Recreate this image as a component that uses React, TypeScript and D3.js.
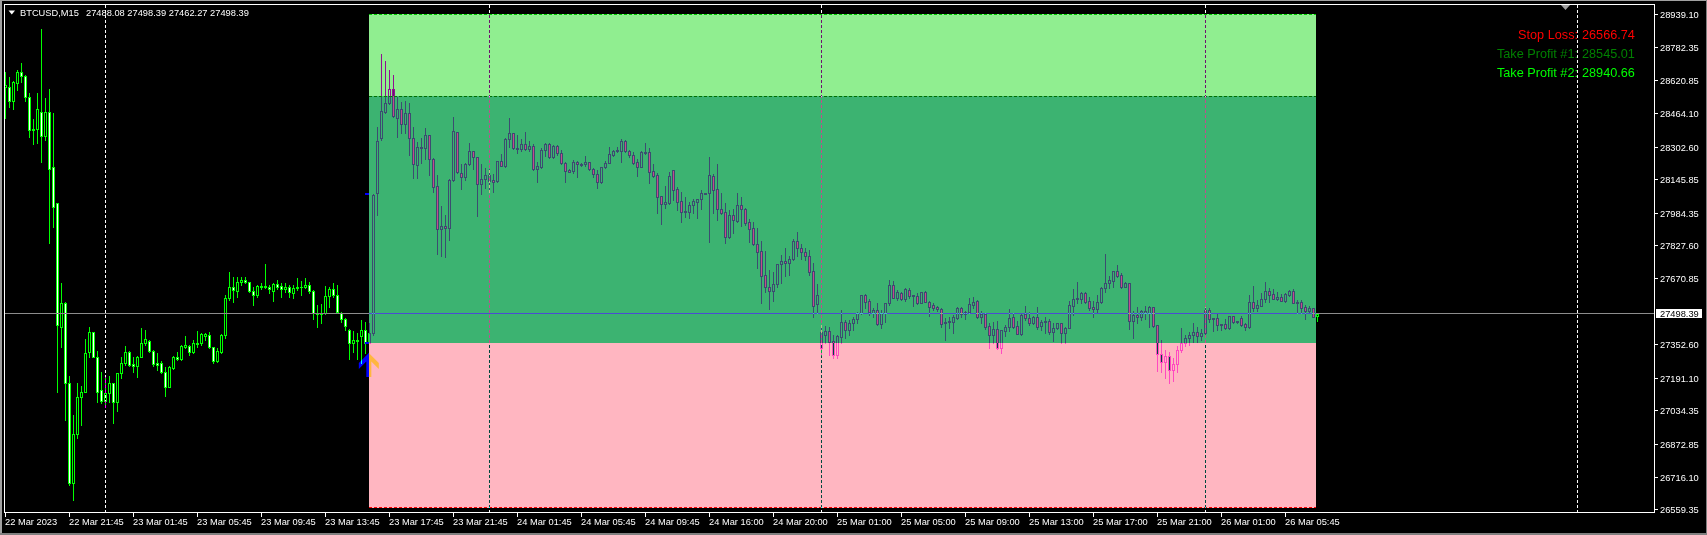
import React from 'react';
import * as d3 from 'd3';

// ---- Data (M15 bars, BTCUSD) ----
const OPEN = [
28591,28591,28524,28610,28663,28644,28543,28383,28386,28471,28356,28468,28207,28030,27437,27550,27168,26684,26921,27101,
27125,27314,27410,27290,27133,27082,27117,27168,27077,27213,27261,27317,27258,27250,27293,27357,27370,27322,27261,27261,
27218,27149,27237,27290,27282,27341,27345,27317,27354,27357,27394,27397,27338,27274,27317,27397,27574,27630,27611,27651,
27662,27651,27611,27590,27633,27627,27630,27611,27641,27633,27617,27627,27601,27623,27630,27627,27636,27611,27502,27498,
27502,27585,27617,27588,27505,27473,27421,27361,27373,27393,27421,27361,27409,28078,28343,28471,28511,28578,28439,28482,
28410,28463,28343,28213,28300,28295,28359,28242,28114,27905,27921,27910,28143,28372,28175,28155,28219,28282,28251,28123,
28146,28167,28143,28138,28234,28211,28338,28367,28298,28293,28316,28290,28306,28194,28207,28287,28314,28251,28306,28271,
28223,28191,28187,28227,28218,28218,28227,28194,28170,28131,28203,28226,28263,28282,28282,28328,28282,28263,28229,28207,
28276,28277,28186,28167,28064,28029,28030,28189,28099,28042,27993,27987,28021,28038,28050,28077,28078,28162,28099,28005,
27987,27868,27973,27945,28022,28003,27941,27912,27835,27801,27684,27628,27610,27641,27737,27753,27742,27761,27849,27816,
27796,27777,27705,27545,27336,27397,27417,27368,27301,27389,27458,27421,27457,27473,27502,27588,27561,27503,27516,27449,
27502,27550,27638,27574,27598,27570,27614,27590,27585,27553,27604,27558,27542,27530,27521,27453,27458,27461,27481,27526,
27497,27510,27542,27561,27485,27498,27441,27399,27426,27333,27418,27434,27482,27441,27401,27498,27477,27453,27482,27442,
27458,27465,27410,27433,27453,27405,27429,27538,27570,27569,27598,27561,27530,27521,27558,27622,27646,27659,27705,27686,
27630,27646,27466,27493,27482,27502,27502,27530,27445,27306,27268,27296,27229,27258,27325,27359,27383,27397,27412,27393,
27407,27518,27474,27477,27445,27450,27429,27489,27461,27477,27450,27434,27554,27529,27538,27569,27609,27593,27572,27580,
27562,27590,27609,27553,27556,27532,27514,27526,27488.08
];
const HIGH = [
28663,28636,28618,28671,28703,28647,28559,28434,28559,28867,28535,28578,28463,28034,27646,27558,27200,27013,27165,27152,
27377,27437,27413,27320,27221,27197,27200,27168,27216,27293,27345,27320,27293,27296,27429,27421,27373,27325,27309,27274,
27245,27250,27296,27317,27349,27393,27349,27373,27418,27409,27409,27413,27341,27333,27402,27590,27702,27678,27675,27678,
27678,27654,27630,27638,27646,27739,27638,27646,27662,27646,27646,27638,27638,27670,27659,27670,27654,27614,27542,27546,
27635,27630,27646,27638,27510,27478,27428,27418,27405,27470,27461,27453,28075,28396,28748,28715,28671,28647,28540,28519,
28522,28511,28396,28327,28346,28391,28359,28247,28167,28017,27974,28146,28444,28375,28219,28223,28319,28282,28255,28219,
28199,28195,28171,28235,28268,28346,28439,28370,28359,28338,28373,28330,28316,28231,28295,28322,28319,28311,28311,28287,
28231,28194,28239,28235,28223,28258,28231,28199,28191,28207,28235,28300,28287,28300,28338,28335,28287,28276,28242,28282,
28320,28295,28219,28178,28064,28114,28183,28191,28109,28085,28061,28037,28051,28050,28094,28080,28253,28171,28219,28082,
28032,27998,28005,28080,28061,28008,27953,27941,27912,27851,27801,27710,27700,27739,27782,27816,27777,27859,27893,27835,
27816,27806,27742,27643,27445,27441,27437,27397,27397,27518,27469,27469,27485,27510,27590,27593,27569,27526,27550,27518,
27551,27662,27657,27614,27606,27625,27625,27591,27598,27606,27609,27559,27553,27537,27526,27477,27485,27493,27534,27534,
27513,27577,27582,27566,27513,27502,27453,27461,27465,27422,27445,27521,27505,27465,27498,27537,27506,27489,27530,27469,
27482,27473,27457,27457,27457,27434,27561,27617,27651,27606,27606,27578,27562,27590,27630,27787,27681,27706,27734,27694,
27651,27646,27514,27534,27518,27537,27537,27534,27446,27373,27325,27316,27287,27344,27431,27397,27412,27454,27434,27426,
27534,27526,27477,27498,27451,27473,27490,27490,27465,27489,27453,27590,27633,27566,27598,27654,27625,27617,27606,27593,
27598,27614,27617,27566,27566,27542,27537,27526,27498.39
];
const LOW = [
28439,28492,28482,28575,28615,28524,28351,28314,28319,28231,28335,27841,27918,27125,27341,26989,26676,26604,26901,26965,
27125,27293,27290,27077,27072,27053,27077,26976,27034,27189,27253,27250,27221,27197,27290,27349,27317,27250,27229,27213,
27104,27146,27232,27277,27277,27333,27301,27309,27341,27349,27373,27333,27261,27269,27309,27381,27566,27558,27582,27638,
27646,27606,27542,27582,27617,27622,27598,27561,27617,27582,27606,27582,27574,27614,27590,27622,27598,27474,27437,27453,
27498,27530,27578,27502,27461,27421,27280,27317,27280,27261,27309,27357,27397,27974,28335,28466,28508,28444,28351,28370,
28370,28263,28154,28151,28226,28242,28167,28086,27785,27777,27771,27854,28139,28178,28098,28143,28215,28194,27971,28074,
28102,28086,28086,28134,28210,28207,28300,28292,28274,28282,28287,28284,28191,28134,28202,28258,28247,28247,28263,28218,
28134,28179,28175,28159,28210,28210,28191,28159,28102,28130,28200,28223,28258,28277,28231,28279,28251,28221,28163,28205,
28268,28130,28155,27985,27931,28009,28029,28046,27998,27942,27966,27958,27985,27961,28003,28075,27846,27985,27950,27979,
27841,27865,27888,27941,27921,27926,27844,27830,27721,27553,27602,27524,27562,27630,27649,27683,27687,27758,27777,27763,
27759,27686,27485,27502,27301,27357,27301,27287,27287,27357,27381,27397,27421,27453,27500,27526,27493,27485,27445,27429,
27461,27542,27574,27566,27564,27562,27577,27538,27545,27551,27554,27490,27518,27514,27437,27373,27433,27405,27474,27485,
27474,27502,27526,27481,27457,27425,27336,27357,27330,27309,27394,27418,27429,27400,27397,27469,27445,27450,27425,27421,
27405,27401,27370,27425,27360,27357,27429,27493,27550,27550,27550,27518,27485,27510,27553,27606,27625,27630,27678,27625,
27626,27425,27385,27453,27469,27474,27434,27437,27226,27219,27191,27167,27176,27219,27316,27344,27349,27364,27364,27373,
27400,27461,27418,27421,27421,27425,27425,27457,27457,27441,27421,27429,27514,27514,27538,27558,27558,27569,27566,27561,
27558,27585,27550,27502,27502,27474,27510,27482,27462.27
];
const CLOSE = [
28599,28524,28614,28663,28644,28543,28383,28388,28482,28356,28468,28194,28014,27445,27550,27168,26684,26921,27101,27125,
27309,27410,27290,27125,27082,27117,27168,27077,27213,27261,27317,27253,27250,27293,27357,27377,27322,27256,27253,27218,
27149,27242,27290,27280,27346,27349,27317,27357,27361,27401,27402,27338,27274,27322,27397,27574,27630,27614,27651,27662,
27651,27611,27590,27633,27630,27633,27617,27641,27630,27617,27630,27606,27625,27630,27627,27636,27611,27502,27498,27502,
27585,27617,27590,27510,27474,27441,27357,27373,27370,27421,27361,27405,28070,28330,28474,28511,28578,28450,28482,28410,
28463,28343,28218,28303,28295,28359,28242,28110,27905,27921,27910,28143,28378,28179,28155,28219,28282,28251,28122,28146,
28167,28138,28134,28234,28211,28338,28367,28295,28293,28316,28290,28306,28194,28210,28287,28316,28251,28306,28274,28223,
28186,28183,28227,28218,28213,28227,28194,28171,28131,28203,28226,28266,28284,28287,28328,28282,28263,28226,28207,28277,
28272,28183,28163,28062,28029,28035,28162,28096,28038,27990,27987,28021,28042,28050,28078,28078,28167,28096,28001,27985,
27870,27974,27949,28022,28001,27937,27909,27833,27798,27683,27630,27610,27643,27739,27753,27742,27763,27849,27816,27796,
27777,27699,27538,27590,27410,27417,27365,27301,27394,27458,27421,27453,27473,27502,27588,27558,27506,27516,27449,27502,
27550,27638,27577,27602,27570,27617,27586,27583,27553,27604,27558,27534,27526,27521,27449,27458,27465,27485,27526,27497,
27506,27545,27558,27485,27500,27437,27399,27426,27333,27421,27434,27477,27437,27401,27493,27477,27453,27482,27437,27460,
27465,27410,27433,27453,27405,27429,27542,27570,27574,27598,27558,27529,27521,27558,27622,27646,27662,27705,27683,27626,
27646,27466,27493,27482,27513,27513,27534,27441,27304,27268,27296,27229,27258,27325,27359,27383,27397,27412,27393,27407,
27518,27474,27477,27445,27450,27429,27489,27461,27465,27445,27434,27554,27529,27542,27569,27610,27590,27570,27580,27562,
27593,27609,27553,27556,27529,27514,27529,27485,27498.39
];

const TIME_LABELS = [
  '22 Mar 2023', '22 Mar 21:45', '23 Mar 01:45', '23 Mar 05:45', '23 Mar 09:45', '23 Mar 13:45',
  '23 Mar 17:45', '23 Mar 21:45', '24 Mar 01:45', '24 Mar 05:45', '24 Mar 09:45', '24 Mar 16:00',
  '24 Mar 20:00', '25 Mar 01:00', '25 Mar 05:00', '25 Mar 09:00', '25 Mar 13:00', '25 Mar 17:00',
  '25 Mar 21:00', '26 Mar 01:00', '26 Mar 05:45'
];
const TIME_LABEL_BARS = [1, 17, 33, 49, 65, 81, 97, 113, 129, 145, 161, 177, 193, 209, 225, 241, 257, 273, 289, 305, 321];
const GRID_BARS = [26, 122, 205, 301, 394];

const PRICE_TICKS = [
  '28939.10', '28782.35', '28620.85', '28464.10', '28302.60', '28145.85', '27984.35', '27827.60',
  '27670.85', '27352.60', '27191.10', '27034.35', '26872.85', '26716.10', '26559.35'
];

const SYMBOL = 'BTCUSD,M15';
const LAST_OHLC = ['27488.08', '27498.39', '27462.27', '27498.39'];
const CURRENT_PRICE = 27498.39;

const TP2 = 28940.66;
const TP1 = 28545.01;
const ENTRY = 27360.3;
const SL = 26566.74;
const ZONE_BARS = [91.9, 328.7];
const ORDER_MARKERS = [28075, 27360];
const ARROW = { bar: 92, price: 27311 };

const LEGEND = [
  { label: 'Stop Loss:', value: '26566.74', color: '#ff0000' },
  { label: 'Take Profit #1:', value: '28545.01', color: '#008000' },
  { label: 'Take Profit #2:', value: '28940.66', color: '#00ff00' },
];

const W = 1707;
const H = 535;
const LIME = '#00ff00';
const FONT = '"Liberation Sans", Arial, sans-serif';

export default function App() {
  const x = d3.scaleLinear().domain([1, 413]).range([5.33, 1653.33]);
  const y = d3.scaleLinear().domain([26559.35, 28939.1]).range([509.3, 14.3]);

  const candles = OPEN.map((o, i) => ({ i: i + 1, o, h: HIGH[i], l: LOW[i], c: CLOSE[i] }));

  const zx0 = Math.round(x(ZONE_BARS[0]));
  const zx1 = Math.round(x(ZONE_BARS[1]));
  const yTP2 = Math.round(y(TP2));
  const yTP1 = Math.round(y(TP1));
  const yEn = Math.round(y(ENTRY));
  const ySL = Math.round(y(SL));
  const yCur = Math.floor(y(CURRENT_PRICE));

  const ax = x(ARROW.bar) - 0.5;
  const ay = y(ARROW.price);
  const arrowPts = [
    [ax, ay], [ax + 10, ay + 10], [ax + 10, ay + 16], [ax + 2.5, ay + 8.5], [ax + 2.5, ay + 24],
    [ax - 2.5, ay + 24], [ax - 2.5, ay + 8.5], [ax - 10, ay + 16], [ax - 10, ay + 10]
  ].map(p => p.join(',')).join(' ');

  return (
    <svg width={W} height={H} style={{ position: 'fixed', left: 0, top: 0, display: 'block' }}>
      <rect x={0} y={0} width={W} height={H} fill="#000" />
      {/* window frame */}
      <g shapeRendering="crispEdges">
        <rect x={0} y={0} width={W} height={1} fill="#a0a0a0" />
        <rect x={0} y={0} width={2} height={H} fill="#a0a0a0" />
        <rect x={0} y={H - 2} width={W} height={2} fill="#808080" />
        <rect x={W - 1} y={0} width={1} height={H} fill="#808080" />
      </g>

      {/* zones */}
      <g shapeRendering="crispEdges">
        <rect x={zx0} y={yTP2} width={zx1 - zx0} height={yTP1 - yTP2} fill="#90ee90" />
        <rect x={zx0} y={yTP1} width={zx1 - zx0} height={yEn - yTP1} fill="#3cb371" />
        <rect x={zx0} y={yEn} width={zx1 - zx0} height={ySL - yEn} fill="#ffb6c1" />
        <line x1={zx0} x2={zx1} y1={yTP2 + 0.5} y2={yTP2 + 0.5} stroke="#00d000" strokeDasharray="3 2" />
        <line x1={zx0} x2={zx1} y1={yTP1 + 0.5} y2={yTP1 + 0.5} stroke="#007000" strokeDasharray="3 2" />
        <line x1={zx0} x2={zx1} y1={ySL - 0.5} y2={ySL - 0.5} stroke="#ff0000" strokeDasharray="3 2" />
      </g>

      {/* vertical grid */}
      <g shapeRendering="crispEdges" style={{ mixBlendMode: 'difference' }}>
        {GRID_BARS.map(b => {
          const gx = Math.round(x(b)) + 0.5;
          return <line key={b} x1={gx} x2={gx} y1={5} y2={512} stroke="#ffffff" strokeDasharray="3 2" />;
        })}
      </g>

      {/* bid line */}
      <g shapeRendering="crispEdges">
        <rect x={5} y={yCur} width={1649} height={1} fill="#8c8c8c" />
        <rect x={zx0} y={yCur} width={zx1 - zx0} height={1} fill="#4b4bd2" />
      </g>

      {/* candles */}
      <g shapeRendering="crispEdges" style={{ mixBlendMode: 'difference' }}>
        {candles.map(d => {
          const cx = Math.round(x(d.i));
          const hi = Math.max(d.h, d.o, d.c);
          const lo = Math.min(d.l, d.o, d.c);
          const yH = Math.round(y(hi));
          const yL = Math.round(y(lo));
          const yT = Math.round(y(Math.max(d.o, d.c)));
          const yB = Math.round(y(Math.min(d.o, d.c)));
          const bear = d.c < d.o;
          return (
            <g key={d.i}>
              {yT > yH && <rect x={cx} y={yH} width={1} height={yT - yH} fill={LIME} />}
              <rect x={cx - 1} y={yT} width={3} height={yB - yT + 1} fill={LIME} />
              {yB - yT >= 2 && (
                <rect x={cx} y={yT + 1} width={1} height={yB - yT - 1} fill={bear ? '#ffffff' : '#000000'} />
              )}
              {yL > yB && <rect x={cx} y={yB + 1} width={1} height={yL - yB} fill={LIME} />}
            </g>
          );
        })}
        {ORDER_MARKERS.map(p => (
          <rect key={p} x={Math.round(x(ARROW.bar)) - 4} y={Math.round(y(p)) - 1} width={5} height={2} fill="#0000ff" />
        ))}
      </g>
      <g style={{ mixBlendMode: 'difference' }}>
        <polygon points={arrowPts} fill="#0000ff" />
      </g>

      {/* chart frame */}
      <rect x={4.5} y={4.5} width={1650} height={508} fill="none" stroke="#ffffff" shapeRendering="crispEdges" />

      {/* price axis */}
      <g fontFamily={FONT} fontSize={9.3} fill="#ffffff">
        {PRICE_TICKS.map(t => {
          const ty = Math.round(y(+t));
          return (
            <g key={t}>
              <rect x={1655} y={ty} width={3} height={1} fill="#ffffff" shapeRendering="crispEdges" />
              <text x={1660} y={ty + 3.6}>{t}</text>
            </g>
          );
        })}
        <rect x={1656} y={yCur - 4} width={46} height={9} fill="#ffffff" shapeRendering="crispEdges" />
        <text x={1660} y={yCur + 3.8} fill="#000000">{CURRENT_PRICE.toFixed(2)}</text>
      </g>

      {/* time axis */}
      <g fontFamily={FONT} fontSize={9.3} fill="#ffffff">
        {TIME_LABELS.map((t, k) => {
          const tx = Math.round(x(TIME_LABEL_BARS[k]));
          return (
            <g key={t}>
              <rect x={tx} y={513} width={1} height={4} fill="#ffffff" shapeRendering="crispEdges" />
              <text x={tx} y={524.5}>{t}</text>
            </g>
          );
        })}
      </g>

      {/* title */}
      <polygon points="8.5,10.5 15,10.5 11.75,14.5" fill="#ffffff" />
      <text x={20} y={16} fontFamily={FONT} fontSize={9.3} fill="#ffffff">{SYMBOL}</text>
      <text x={86} y={16} fontFamily={FONT} fontSize={9.3} fill="#ffffff">{LAST_OHLC.join(' ')}</text>

      {/* chart shift marker */}
      <polygon points="1561,5 1570,5 1565.5,10" fill="#a0a0a0" />

      {/* legend */}
      <g fontFamily={FONT} fontSize={12.7}>
        {LEGEND.map((l, k) => (
          <g key={l.label} fill={l.color}>
            <text x={1578} y={38.5 + k * 19.4} textAnchor="end">{l.label}</text>
            <text x={1582} y={38.5 + k * 19.4}>{l.value}</text>
          </g>
        ))}
      </g>
    </svg>
  );
}
